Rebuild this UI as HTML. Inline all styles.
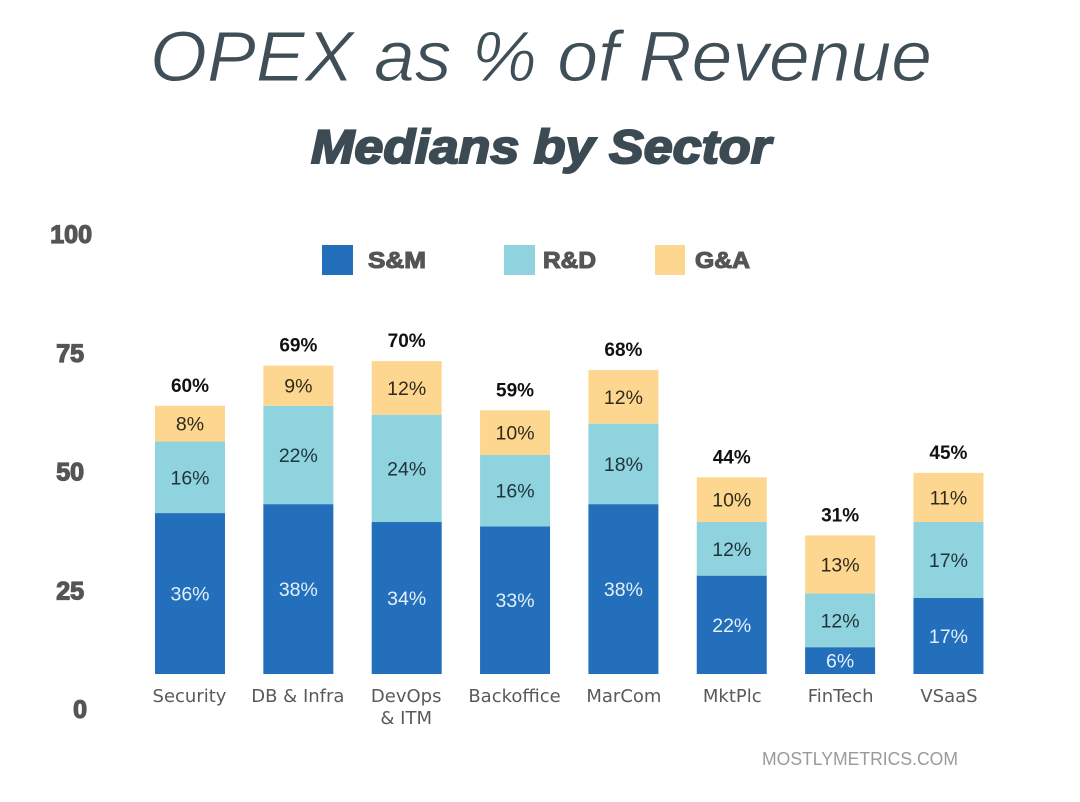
<!DOCTYPE html>
<html lang="en">
<head>
<meta charset="utf-8">
<title>OPEX as % of Revenue</title>
<style>
html,body{margin:0;padding:0;background:#fff;}
body{width:1080px;height:802px;overflow:hidden;}
svg{display:block;}
text{font-family:"Liberation Sans",sans-serif;}
</style>
</head>
<body>
<svg id="chart" width="1080" height="802" viewBox="0 0 1080 802" xmlns="http://www.w3.org/2000/svg">
  <rect width="1080" height="802" fill="#fff"/>
  <text x="150" y="81" font-size="71" font-style="italic" fill="#3f4e57" stroke="#fff" stroke-width=".9" textLength="782" lengthAdjust="spacingAndGlyphs">OPEX as % of Revenue</text>
  <text x="311" y="163" font-size="47" font-weight="bold" font-style="italic" fill="#3c4a53" stroke="#3c4a53" stroke-width="2" textLength="460" lengthAdjust="spacingAndGlyphs">Medians by Sector</text>
  <g>
    <rect x="322" y="245" width="31" height="30" fill="#236fbb"/>
    <text x="368" y="268" font-size="23" font-weight="bold" fill="#555" stroke="#555" stroke-width="1.1" textLength="58" lengthAdjust="spacingAndGlyphs">S&amp;M</text>
    <rect x="504" y="245" width="31" height="30" fill="#8fd3df"/>
    <text x="543" y="268" font-size="23" font-weight="bold" fill="#555" stroke="#555" stroke-width="1.1" textLength="53" lengthAdjust="spacingAndGlyphs">R&amp;D</text>
    <rect x="655" y="245" width="30" height="30" fill="#fdd78f"/>
    <text x="695" y="268" font-size="23" font-weight="bold" fill="#555" stroke="#555" stroke-width="1.1" textLength="55" lengthAdjust="spacingAndGlyphs">G&amp;A</text>
  </g>
  <g id="y-axis"></g>
  <g id="bars"></g>
  <g id="x-axis"></g>
  <text x="762" y="765" font-size="18" fill="#9a9a9a" textLength="196" lengthAdjust="spacingAndGlyphs">MOSTLYMETRICS.COM</text>
</svg>
<script>
const categories = [["Security"],["DB & Infra"],["DevOps","& ITM"],["Backoffice"],["MarCom"],["MktPlc"],["FinTech"],["VSaaS"]];
const salesMarketing = [36,38,34,33,38,22,6,17];
const researchDev = [16,22,24,16,18,12,12,17];
const generalAdmin = [8,9,12,10,12,10,13,11];
const totals = [60,69,70,59,68,44,31,45];
const yTicks = [0,25,50,75,100];

const NS = "http://www.w3.org/2000/svg";
const BASELINE = 674;
const UNIT = 4.47;
const yScale = v => BASELINE - v * UNIT;
const xBand = i => 155 + i * 108.35;
const BAR_W = 70;
const tickY = v => 718 - v * 4.75;
const tickX = v => v === 100 ? 92 : v === 0 ? 87 : 84;

function make(tag, attrs, parent, txt) {
  const el = document.createElementNS(NS, tag);
  for (const k in attrs) el.setAttribute(k, attrs[k]);
  if (txt !== undefined) el.textContent = txt;
  parent.appendChild(el);
  return el;
}

const yAxis = document.getElementById("y-axis");
yTicks.forEach(v => {
  const t = make("text", {x: tickX(v), y: tickY(v), "text-anchor": "end", "font-size": 25, "font-weight": "bold", fill: "#555", stroke: "#555", "stroke-width": 1.3}, yAxis, String(v));
  
  
});

const barsG = document.getElementById("bars");
const xAxis = document.getElementById("x-axis");
const seriesDefs = [
  {name: "sm", values: salesMarketing, fill: "#236fbb", ink: "#e3f0fa"},
  {name: "rd", values: researchDev, fill: "#8fd3df", ink: "#1f3338"},
  {name: "ga", values: generalAdmin, fill: "#fdd78f", ink: "#2f2a1c"}
];

categories.forEach((lines, i) => {
  let acc = 0;
  const cx = xBand(i) + BAR_W / 2;
  seriesDefs.forEach(s => {
    const v = s.values[i];
    const top = yScale(acc + v);
    const bot = yScale(acc);
    const r = make("rect", {x: xBand(i), y: top, width: BAR_W, height: bot - top, fill: s.fill}, barsG);
    
    
    const t = make("text", {x: cx, y: (top + bot) / 2 + 7, "text-anchor": "middle", "font-size": 19.5, fill: s.ink}, barsG, v + "%");
    
    
    acc += v;
  });
  const totalLabel = make("text", {x: cx, y: yScale(acc) - 14, "text-anchor": "middle", "font-size": 19, "font-weight": "bold", fill: "#111"}, barsG, totals[i] + "%");
  
  
  lines.forEach((line, j) => {
    const c = make("text", {x: cx - 0.5 + (i > 3 ? 1 : 0), y: 702 + j * 22, "text-anchor": "middle", "font-size": 18, fill: "#5a5a5a"}, xAxis, line);
    c.style.fontFamily = '"DejaVu Sans",sans-serif';
    
    
  });
});
</script>
</body>
</html>
